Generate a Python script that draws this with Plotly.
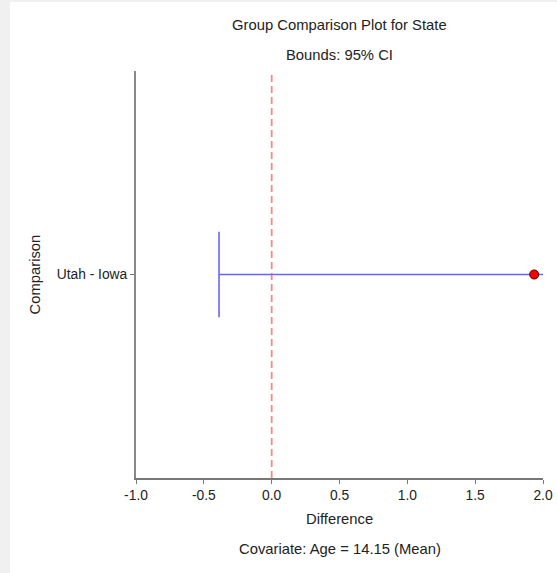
import plotly.graph_objects as go

comparisons = ["Utah - Iowa"]
estimates = [1.935]
lower_bounds = [-0.388]
upper_bounds = [4.258]
reference_value = 0.0
x_ticks = [-1.0, -0.5, 0.0, 0.5, 1.0, 1.5, 2.0]
x_tick_labels = ["-1.0", "-0.5", "0.0", "0.5", "1.0", "1.5", "2.0"]

FONT = "Liberation Sans, Arial, sans-serif"
cap = 0.21
line_color = "#6666ff"

L, R, T, B = 136, 543, 71, 478
W, H = 557, 573
PW, PH = R - L, B - T

fig = go.Figure()
for i, name in enumerate(comparisons):
    y0 = i
    fig.add_trace(go.Scatter(x=[lower_bounds[i], upper_bounds[i]], y=[y0, y0], mode="lines",
                             line=dict(color=line_color, width=1.6), hoverinfo="skip", showlegend=False))
    for b in (lower_bounds[i], upper_bounds[i]):
        fig.add_trace(go.Scatter(x=[b, b], y=[y0 - cap, y0 + cap], mode="lines",
                                 line=dict(color=line_color, width=1.6), hoverinfo="skip", showlegend=False))
    fig.add_trace(go.Scatter(x=[estimates[i]], y=[y0], mode="markers",
                             marker=dict(color="#ff0000", size=9, line=dict(color="#400000", width=1)),
                             cliponaxis=False, showlegend=False))

fig.add_shape(type="line", xref="x", yref="paper", x0=reference_value, x1=reference_value, y0=0, y1=1,
              line=dict(color="rgba(255,80,80,0.7)", width=1.8, dash="7px,4px"), layer="above")

fig.add_shape(type="rect", xref="paper", yref="paper", x0=(10 - L) / PW, x1=(W + 3 - L) / PW,
              y0=(B - H - 3) / PH, y1=(B - 2) / PH, fillcolor="white", line=dict(width=0), layer="below")

ann = dict(xref="paper", yref="paper", showarrow=False, font=dict(family=FONT, size=14.8, color="#222"))
fig.add_annotation(text="Group Comparison Plot for State", x=0.5, y=(B - 25) / PH, yanchor="middle", **ann)
fig.add_annotation(text="Bounds: 95% CI", x=0.5, y=(B - 55) / PH, yanchor="middle", **ann)
fig.add_annotation(text="Difference", x=0.5, y=(B - 519) / PH, yanchor="middle", **ann)
fig.add_annotation(text="Covariate: Age = 14.15 (Mean)", x=0.5, y=(B - 549) / PH, yanchor="middle", **ann)
fig.add_annotation(text="Comparison", x=(34 - L) / PW, y=0.5, textangle=-90, xanchor="center", yanchor="middle", **ann)

fig.update_layout(
    width=W, height=H,
    margin=dict(l=L, r=W - R, t=T, b=H - B, autoexpand=False),
    paper_bgcolor="#f0f0f0", plot_bgcolor="white",
    xaxis=dict(range=[-1, 2], tickvals=x_ticks, ticktext=x_tick_labels, showgrid=False, zeroline=False,
               showline=True, linecolor="#777", linewidth=1.5, ticks="outside", ticklen=4, tickcolor="#777",
               tickfont=dict(family=FONT, size=13.8, color="#222"), automargin=False),
    yaxis=dict(range=[-1, len(comparisons)], tickvals=list(range(len(comparisons))), ticktext=comparisons,
               showgrid=False, zeroline=False, showline=True, linecolor="#888", linewidth=2,
               ticks="outside", ticklen=4, tickcolor="#777",
               tickfont=dict(family=FONT, size=13.8, color="#222"), automargin=False),
)
fig.write_html("out.html")
